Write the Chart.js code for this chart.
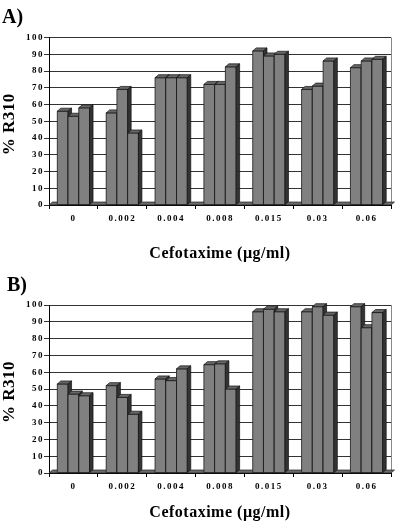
<!DOCTYPE html>
<html>
<head>
<meta charset="utf-8">
<script src="https://cdn.jsdelivr.net/npm/chart.js@4.4.1/dist/chart.umd.min.js"></script>
<style>
  html, body { margin: 0; padding: 0; background: #fff; }
  canvas { display: block; }
</style>
</head>
<body>
<canvas id="chartA" width="400" height="262"></canvas>
<canvas id="chartB" width="400" height="262"></canvas>
<script>
// categories and values
var categories = ['0', '0.002', '0.004', '0.008', '0.015', '0.03', '0.06'];
var yTicks = [0, 10, 20, 30, 40, 50, 60, 70, 80, 90, 100];

var panelA1 = [56, 55, 76, 72, 92, 69, 82];
var panelA2 = [53, 69, 76, 72, 89, 71, 86];
var panelA3 = [58, 43, 76, 82.5, 90, 86, 87];

var panelB1 = [53, 52, 56, 64.5, 96, 96, 99];
var panelB2 = [47, 45, 55, 65, 97.5, 99, 86.5];
var panelB3 = [46, 35, 62, 50, 96, 94, 95.5];

var FRONT = '#808080';
var TOP = '#666';
var SIDE = '#333';
var DX = 3.5, DY = 3;
var SERIF = '"Liberation Serif", "Times New Roman", serif';

function poly(ctx, pts, fill) {
    ctx.beginPath();
    ctx.moveTo(pts[0][0], pts[0][1]);
    for (var k = 1; k < pts.length; k++) ctx.lineTo(pts[k][0], pts[k][1]);
    ctx.closePath();
    ctx.fillStyle = fill;
    ctx.fill();
    ctx.stroke();
}

// fake excel 3d look: floor, right wall, then front/top/side faces per bar
var bars3d = {
    id: 'bars3d',
    beforeDraw: function(chart) {
        chart.ctx.letterSpacing = '1.5px';
    },
    beforeDatasetsDraw: function(chart) {
        var ctx = chart.ctx, a = chart.chartArea;
        ctx.save();
        ctx.strokeStyle = '#888';
        ctx.lineWidth = 1;
        ctx.beginPath();
        ctx.moveTo(a.right + 0.5, a.top);
        ctx.lineTo(a.right + 0.5, a.bottom);
        ctx.stroke();
        ctx.strokeStyle = '#222';
        ctx.lineWidth = 0.7;
        poly(ctx, [[a.left, a.bottom], [a.right, a.bottom], [a.right + DX, a.bottom - DY], [a.left + DX, a.bottom - DY]], '#6a6a6a');
        ctx.restore();
    },
    afterDatasetsDraw: function(chart) {
        var ctx = chart.ctx;
        var n = chart.data.labels.length;
        ctx.save();
        ctx.lineWidth = 0.7;
        ctx.strokeStyle = '#111';
        for (var i = 0; i < n; i++) {
            for (var d = 0; d < chart.data.datasets.length; d++) {
                var p = chart.getDatasetMeta(d).data[i].getProps(['x', 'y', 'base', 'width'], true);
                var l = p.x - p.width / 2, r = p.x + p.width / 2, t = p.y, b = p.base;
                poly(ctx, [[l, t], [r, t], [r, b], [l, b]], FRONT);
                poly(ctx, [[l, t], [l + DX, t - DY], [r + DX, t - DY], [r, t]], TOP);
                poly(ctx, [[r, t], [r + DX, t - DY], [r + DX, b - DY], [r, b]], SIDE);
            }
        }
        ctx.restore();
    },
    afterDraw: function(chart) {
        var ctx = chart.ctx, a = chart.chartArea;
        var o = chart.options.plugins.bars3d;
        ctx.save();
        ctx.letterSpacing = '0px';
        ctx.fillStyle = '#000';
        ctx.textBaseline = 'alphabetic';

        ctx.font = 'bold 20px ' + SERIF;
        ctx.textAlign = 'left';
        ctx.fillText(o.letter, o.letterX, o.letterY);

        ctx.font = 'bold 16px ' + SERIF;
        ctx.textAlign = 'center';
        ctx.letterSpacing = '0.5px';
        ctx.fillText('Cefotaxime (\u00b5g/ml)', (a.left + a.right) / 2, a.bottom + o.titleGap);

        ctx.font = 'bold 17px ' + SERIF;
        ctx.translate(14, (a.top + a.bottom) / 2 + 3);
        ctx.rotate(-Math.PI / 2);
        ctx.fillText('% R310', 0, 0);
        ctx.restore();
    }
};

function makeChart(id, letter, s1, s2, s3, padTop, xHeight, letterX, letterY, titleGap) {
    var tickFont = { family: SERIF, weight: 'bold', size: 9 };
    return new Chart(document.getElementById(id), {
        type: 'bar',
        data: {
            labels: categories,
            datasets: [s1, s2, s3].map(function(v) {
                return {
                    data: v,
                    backgroundColor: FRONT,
                    borderWidth: 0,
                    categoryPercentage: 0.66,
                    barPercentage: 1.0
                };
            })
        },
        options: {
            responsive: false,
            animation: false,
            layout: { padding: { top: padTop, right: 9, left: 0, bottom: 0 } },
            plugins: {
                legend: { display: false },
                tooltip: { enabled: false },
                title: { display: false },
                bars3d: { letter: letter, letterX: letterX, letterY: letterY, titleGap: titleGap }
            },
            scales: {
                x: {
                    grid: { drawOnChartArea: false, tickLength: 4, color: '#000', offset: true },
                    border: { color: '#000' },
                    ticks: { color: '#000', font: tickFont, padding: 4, maxRotation: 0, autoSkip: false },
                    afterFit: function(s) { s.height = xHeight; }
                },
                y: {
                    min: 0,
                    max: 100,
                    afterBuildTicks: function(s) {
                        s.ticks = yTicks.map(function(v) { return { value: v }; });
                    },
                    grid: { color: '#333', tickLength: 5 },
                    border: { color: '#000' },
                    ticks: { color: '#000', font: tickFont, padding: 0 },
                    afterFit: function(s) { s.width = 49; }
                }
            }
        },
        plugins: [bars3d]
    });
}

makeChart('chartA', 'A)', panelA1, panelA2, panelA3, 37.5, 57, 2, 23, 53);
makeChart('chartB', 'B)', panelB1, panelB2, panelB3, 43, 51, 7, 29, 44);
</script>
</body>
</html>
